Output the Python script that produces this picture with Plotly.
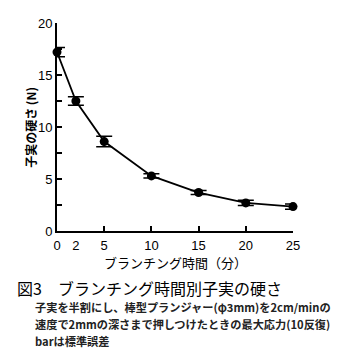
import plotly.graph_objects as go

minutes = [0, 2, 5, 10, 15, 20, 25]
hardness = [17.2, 12.5, 8.6, 5.3, 3.7, 2.7, 2.35]
se = [0.45, 0.4, 0.5, 0.2, 0.2, 0.25, 0.25]

x_labels = ["0", "2", "5", "10", "15", "20", "25"]
x_label_vals = [0, 2, 5, 10, 15, 20, 25]
x_tick_marks = [5, 10, 15, 20, 25]
y_tick_vals = [0, 2.5, 5, 7.5, 10, 12.5, 15, 17.5, 20]
y_tick_text = ["0", "", "5", "", "10", "", "15", "", "20"]

FONT = "Liberation Sans, Noto Sans CJK JP, sans-serif"
JFONT = "Noto Sans CJK JP, sans-serif"

fig = go.Figure()
fig.add_trace(go.Scatter(
    x=minutes, y=hardness, mode="lines+markers",
    line=dict(color="black", width=1.8),
    marker=dict(color="black", size=9),
    error_y=dict(type="data", array=se, color="black", thickness=1.5, width=8),
    cliponaxis=False, showlegend=False,
))
# invisible trace to carry a second x axis for tick marks
fig.add_trace(go.Scatter(x=[0, 25], y=[0, 0], xaxis="x2", mode="markers",
                         marker=dict(opacity=0), showlegend=False, hoverinfo="skip"))

fig.update_layout(
    width=348, height=354,
    margin=dict(l=57, r=55, t=23, b=123),
    paper_bgcolor="white", plot_bgcolor="white",
    font=dict(family=FONT, color="black", size=13),
    xaxis=dict(range=[0, 25], tickvals=x_label_vals, ticktext=x_labels, ticks="",
               showline=True, linecolor="black", linewidth=1.8, showgrid=False,
               zeroline=False, tickfont=dict(size=13), ticklabelstandoff=1),
    xaxis2=dict(range=[0, 25], overlaying="x", side="bottom", tickvals=x_tick_marks,
                ticks="inside", ticklen=5, tickwidth=1.5, tickcolor="black",
                showticklabels=False, showline=False, showgrid=False, zeroline=False),
    yaxis=dict(range=[0, 20], tickvals=y_tick_vals, ticktext=y_tick_text,
               ticks="inside", ticklen=5, tickwidth=1.5, tickcolor="black",
               showline=True, linecolor="black", linewidth=1.8, showgrid=False,
               zeroline=False, tickfont=dict(size=13)),
)

fig.add_annotation(text="<b>子実の硬さ (N)</b>", xref="paper", yref="paper", x=-0.115, y=0.5,
                   textangle=-90, showarrow=False, font=dict(family=JFONT, size=12),
                   xanchor="center", yanchor="middle")
fig.add_annotation(text="ブランチング時間（分）", xref="paper", yref="paper", x=0.5, y=-0.15,
                   showarrow=False, font=dict(family=JFONT, size=13), xanchor="center", yanchor="middle")
fig.add_annotation(text="図3　ブランチング時間別子実の硬さ", xref="paper", yref="paper",
                   x=-0.18, y=-0.274, showarrow=False, font=dict(family=JFONT, size=16),
                   xanchor="left", yanchor="middle")
notes = ["子実を半割にし、棒型プランジャー(φ3mm)を2cm/minの",
         "速度で2mmの深さまで押しつけたときの最大応力(10反復)",
         "barは標準誤差"]
for i, t in enumerate(notes):
    fig.add_annotation(text="<b>" + t + "</b>", xref="paper", yref="paper",
                       x=-0.102, y=-0.365 - i * 0.0817, showarrow=False,
                       font=dict(family=JFONT, size=11.2, color="#222"),
                       xanchor="left", yanchor="middle")

fig.write_html("out.html")
